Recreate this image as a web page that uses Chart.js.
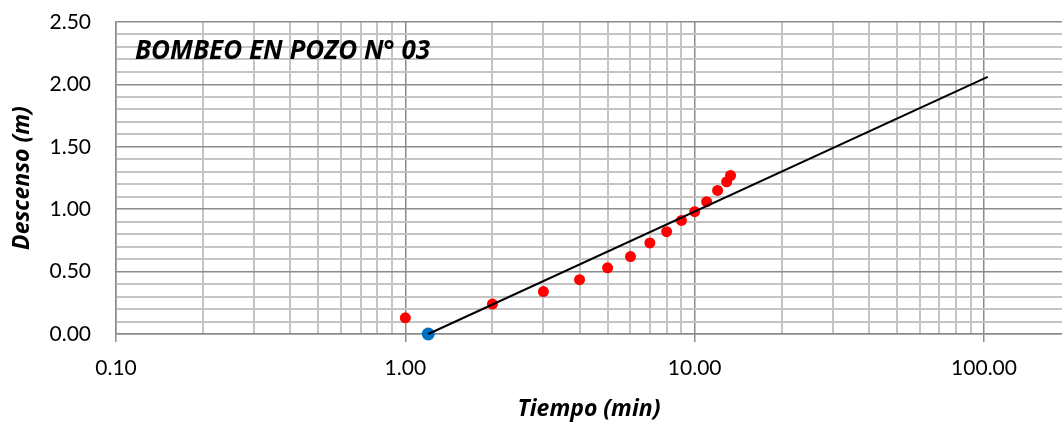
<!DOCTYPE html>
<html>
<head>
<meta charset="utf-8">
<script src="https://cdn.jsdelivr.net/npm/chart.js@4.4.0/dist/chart.umd.min.js"></script>
<style>
  html, body { margin: 0; padding: 0; background: #fff; overflow: hidden; }
  #wrap { width: 1062px; height: 423px; position: relative; }
  canvas { display: block; }
</style>
</head>
<body>
<div id="wrap"><canvas id="chart"></canvas></div>
<script>
// Data

// measured drawdown, red points
const timeMin = [1, 2, 3, 4, 5, 6, 7, 8, 9, 10, 11, 12, 12.9, 13.3];
const drawdown = [0.13, 0.24, 0.34, 0.435, 0.53, 0.62, 0.73, 0.82, 0.91, 0.98, 1.06, 1.15, 1.22, 1.27];

// t0 intercept, blue point
const t0Time = [1.2];
const t0Drawdown = [0];

// straight-line fit, end points
const fitTime = [1.2, 103];
const fitDrawdown = [0, 2.06];

// log-axis gridlines and labelled decades
const xGridValues = [0.1, 0.2, 0.3, 0.4, 0.5, 0.6, 0.7, 0.8, 0.9,
  1, 2, 3, 4, 5, 6, 7, 8, 9,
  10, 20, 30, 40, 50, 60, 70, 80, 90, 100];
const xMajorValues = [0.1, 1, 10, 100];
const yLabelValues = [0, 0.5, 1, 1.5, 2, 2.5];

const chartTitle = 'BOMBEO EN POZO N° 03';

const MAJOR_GRID = '#8c8c8c';
const MINOR_GRID = '#c4c4c4';
const FONT = 'Lato';
const TITLE_FONT = '"Open Sans"';

function isXMajor(v) {
  return xMajorValues.some(m => Math.abs(m - v) < 1e-9);
}

function isYLabel(v) {
  return yLabelValues.some(m => Math.abs(m - v) < 1e-6);
}

const titlePlugin = {
  id: 'plotTitle',
  afterDraw(chart) {
    const ctx = chart.ctx;
    ctx.save();
    ctx.font = 'italic bold 26px ' + TITLE_FONT;
    ctx.fillStyle = '#000';
    ctx.textAlign = 'left';
    ctx.textBaseline = 'alphabetic';
    ctx.fillText(chartTitle, chart.chartArea.left + 19, 59);
    ctx.restore();
  }
};

const ctx = document.getElementById('chart').getContext('2d');

const pozoChart = new Chart(ctx, {
  type: 'scatter',
  data: {
    datasets: [
      {
        label: 'Recta',
        data: fitTime.map((t, i) => ({ x: t, y: fitDrawdown[i] })),
        showLine: true,
        borderColor: '#000000',
        borderWidth: 2,
        pointRadius: 0,
        fill: false,
        clip: false
      },
      {
        label: 't0',
        data: t0Time.map((t, i) => ({ x: t, y: t0Drawdown[i] })),
        backgroundColor: '#0070c0',
        borderColor: '#0070c0',
        pointRadius: 6.5,
        borderWidth: 0,
        clip: false
      },
      {
        label: 'Descenso',
        data: timeMin.map((t, i) => ({ x: t, y: drawdown[i] })),
        backgroundColor: '#ff0000',
        borderColor: '#ff0000',
        pointRadius: 5.5,
        borderWidth: 0,
        clip: false
      }
    ]
  },
  options: {
    responsive: true,
    maintainAspectRatio: false,
    animation: false,
    layout: {
      autoPadding: false,
      padding: { top: 22, right: 0, bottom: 0, left: 0 }
    },
    plugins: {
      legend: { display: false },
      tooltip: { enabled: false }
    },
    scales: {
      x: {
        type: 'logarithmic',
        min: 0.1,
        max: 186,
        afterBuildTicks(scale) {
          scale.ticks = xGridValues.map(v => ({ value: v, major: isXMajor(v) }));
        },
        afterFit(scale) {
          scale.height = 89;
          scale.paddingLeft = 0;
          scale.paddingRight = 0;
        },
        grid: {
          color: c => isXMajor(c.tick.value) ? MAJOR_GRID : MINOR_GRID,
          lineWidth: c => isXMajor(c.tick.value) ? 1.5 : 2,
          tickColor: c => isXMajor(c.tick.value) ? MAJOR_GRID : 'rgba(0,0,0,0)',
          tickLength: 8
        },
        border: { display: true, color: MAJOR_GRID, width: 1.5 },
        ticks: {
          autoSkip: false,
          maxRotation: 0,
          color: '#000',
          padding: 14,
          font: { family: FONT, size: 21 },
          callback: function(value) {
            return isXMajor(value) ? value.toFixed(2) : '';
          }
        },
        title: {
          display: true,
          text: 'Tiempo (min)',
          color: '#000',
          font: { family: TITLE_FONT, size: 23, weight: 'bold', style: 'italic' },
          padding: { top: 0, bottom: 0 }
        }
      },
      y: {
        min: 0,
        max: 2.5,
        afterFit(scale) {
          scale.width = 116;
          scale.paddingTop = 0;
          scale.paddingBottom = 0;
        },
        grid: {
          color: c => isYLabel(c.tick.value) ? MAJOR_GRID : MINOR_GRID,
          lineWidth: c => isYLabel(c.tick.value) ? 1.5 : 2,
          drawTicks: false
        },
        border: { display: true, color: MAJOR_GRID, width: 1.5 },
        ticks: {
          stepSize: 0.1,
          autoSkip: false,
          color: '#000',
          padding: 25,
          font: { family: FONT, size: 21 },
          callback: function(value) {
            return isYLabel(value) ? value.toFixed(2) : '';
          }
        },
        title: {
          display: true,
          text: 'Descenso (m)',
          color: '#000',
          font: { family: TITLE_FONT, size: 23, weight: 'bold', style: 'italic' },
          padding: { top: 9, bottom: 0 }
        }
      }
    }
  },
  plugins: [titlePlugin]
});
</script>
</body>
</html>
